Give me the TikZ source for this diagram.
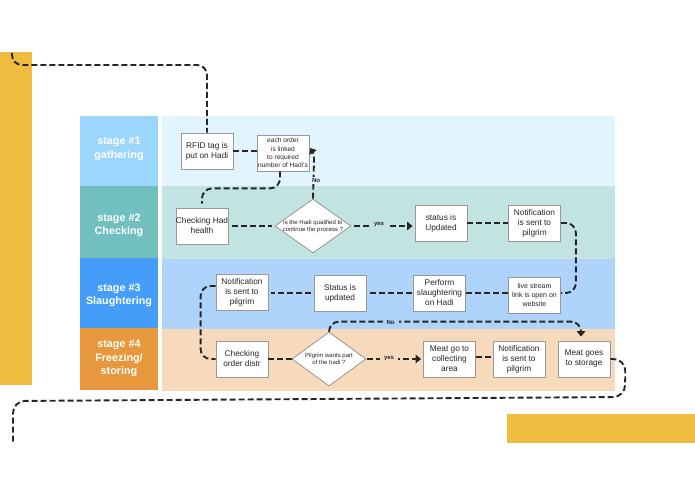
\documentclass[tikz,border=0pt]{standalone}
\usepackage{fontspec}
\setmainfont{Liberation Sans}
\usetikzlibrary{arrows.meta,shapes.geometric}
\definecolor{barYellow}{HTML}{EFBC3F}
\definecolor{stageOne}{HTML}{9BD6FC}
\definecolor{stageTwo}{HTML}{71C0BE}
\definecolor{stageThree}{HTML}{449DF9}
\definecolor{stageFour}{HTML}{E7973C}
\definecolor{bandOne}{HTML}{E2F4FD}
\definecolor{bandTwo}{HTML}{C2E4E1}
\definecolor{bandThree}{HTML}{AED4FB}
\definecolor{bandFour}{HTML}{F7DABB}
\tikzset{
  band/.style={inner sep=0,minimum width=453pt},
  stagebox/.style={inner sep=0,minimum width=78pt},
  stagetext/.style={text=white,align=center,inner sep=0,font=\fontsize{10.8}{13.3}\selectfont\bfseries},
  box/.style={draw=black!40,fill=white,line width=0.8pt,inner sep=0,minimum width=52pt,minimum height=36pt,align=center,text=black!85,font=\fontsize{8.3}{10}\selectfont},
  smallbox/.style={box,font=\fontsize{7}{8.6}\selectfont},
  decide/.style={diamond,draw=black!45,fill=white,line width=0.7pt,inner sep=0,aspect=1.4,minimum width=76pt,minimum height=54pt},
  decidetext/.style={align=center,inner sep=0,text=black!85,font=\fontsize{6}{7}\selectfont},
  flowlabel/.style={inner xsep=4pt,inner ysep=1pt,text=black!85,font=\fontsize{6}{7}\selectfont\bfseries},
  flow/.style={draw=black!85,line width=1.9pt,dash pattern=on 6pt off 3pt,rounded corners=10pt},
  flowarrow/.style={flow,-{Triangle[width=8.5pt,length=5.5pt]}}
}
\begin{document}
\begin{tikzpicture}[x=1pt,y=-1pt]
\useasboundingbox (0,0) rectangle (695,494);
% bars
\node[fill=barYellow,inner sep=0,minimum width=32pt,minimum height=333pt] (barleft) at (16,218.5) {};
\node[fill=barYellow,inner sep=0,minimum width=188pt,minimum height=29pt] (barright) at (601,428.5) {};
% bands
\node[band,fill=bandOne,minimum height=70pt] (bandone) at (388.5,151) {};
\node[band,fill=bandTwo,minimum height=73pt] (bandtwo) at (388.5,222.5) {};
\node[band,fill=bandThree,minimum height=70pt] (bandthree) at (388.5,294) {};
\node[band,fill=bandFour,minimum height=62pt] (bandfour) at (388.5,360) {};
% stages
\node[stagebox,fill=stageOne,minimum height=70pt] (stageone) at (119,151) {};
\node[stagebox,fill=stageTwo,minimum height=72pt] (stagetwo) at (119,222) {};
\node[stagebox,fill=stageThree,minimum height=70pt] (stagethree) at (119,293) {};
\node[stagebox,fill=stageFour,minimum height=62pt] (stagefour) at (119,359) {};
\node[stagetext] (stageonetext) at (119,149) {stage \#1\\gathering};
\node[stagetext] (stagetwotext) at (119,225.5) {stage \#2\\Checking};
\node[stagetext] (stagethreetext) at (119,295.5) {stage \#3\\Slaughtering};
\node[stagetext] (stagefourtext) at (119,358.5) {stage \#4\\Freezing/\\storing};
% steps
\node[box] (rfid) at (207,151) {RFID tag is\\put on Hadi};
\node[smallbox,font=\fontsize{6.6}{8.4}\selectfont] (order) at (283,153) {each order\\is linked\\to required\\number of Hadi's};
\node[box] (health) at (202,226) {Checking Had\\health};
\node[decide,label={[decidetext]center:is the Hadi qualified to\\continue the process ?}] (qualified) at (313,226) {};
\node[box] (statusup) at (441,223) {status is\\Updated};
\node[box] (notifytwo) at (534.5,223) {Notification\\is sent to\\pilgrim};
\node[smallbox] (live) at (534.5,295) {live stream\\link is open on\\website};
\node[box] (perform) at (439.5,293) {Perform\\slaughtering\\on Hadi};
\node[box] (statusdown) at (340,293) {Status is\\updated};
\node[box] (notifythree) at (242,292) {Notification\\is sent to\\pilgrim};
\node[box] (distr) at (242,359) {Checking\\order distr};
\node[decide,minimum width=74pt,label={[decidetext]center:Pilgrim wants part\\of the hadi ?}] (pilgrim) at (329,359) {};
\node[box] (collect) at (449.5,359) {Meat go to\\collecting\\area};
\node[box] (notifyfour) at (519,359) {Notification\\is sent to\\pilgrim};
\node[box] (storage) at (584,359) {Meat goes\\to storage};
% free ends
\coordinate (toptail) at (12,53);
\coordinate (topbend) at (207,65);
\coordinate (outright) at (625,397);
\coordinate (outleft) at (13,401);
\coordinate (outtail) at (13,443);
% connectors
\draw[flow] (toptail) |- (topbend) -- (rfid.north);
\draw[flow] (rfid.east) -- (rfid.east -| order.west);
\draw[flow,shorten >=4pt] ([xshift=-3pt]order.south) -- ++(0,17) -| (health.north);
\draw[flow,shorten <=4pt,shorten >=3pt] (health.east) -- (qualified.west);
\draw[flowarrow,rounded corners=0pt] (qualified.north) -- (314,160) .. controls (314,154) .. (310,148);
\draw[flowarrow,shorten <=3pt,shorten >=2pt] (qualified.east) -- (qualified.east -| statusup.west);
\draw[flow] (statusup.east) -- (notifytwo.west);
\draw[flow] (notifytwo.east) -- ++(15,0) |- ([yshift=2pt]live.east);
\draw[flow] ([yshift=2pt]live.west) -- (perform.east);
\draw[flow,shorten <=1pt,shorten >=3pt] (perform.west) -- (statusdown.east);
\draw[flow,shorten <=3pt,shorten >=3pt] (statusdown.west) -- (statusdown.west -| notifythree.east);
\draw[flow] ([yshift=6pt]notifythree.west) -- ++(-15,0) |- (distr.west);
\draw[flow] (distr.east) -- (pilgrim.west);
\draw[flowarrow,shorten >=4pt] (pilgrim.north) -- ++(0,-10) -| ([xshift=-3pt]storage.north);
\draw[flowarrow,shorten <=1pt,shorten >=2pt] (pilgrim.east) -- (collect.west);
\draw[flow] ([yshift=2pt]collect.east) -- ([yshift=2pt]notifyfour.west);
\draw[flow,rounded corners=12pt] (storage.east) -- ++(15,0) -- (outright) -- (outleft) -- (outtail);
% labels on connectors
\node[flowlabel,fill=bandOne] (labelno) at (316,180.5) {No};
\node[flowlabel,fill=bandTwo] (labelyes) at (379,224.5) {yes};
\node[flowlabel,fill=bandThree] (labelnolow) at (390.5,322) {No};
\node[flowlabel,fill=bandFour] (labelyeslow) at (389,358.5) {yes};
\end{tikzpicture}
\end{document}
